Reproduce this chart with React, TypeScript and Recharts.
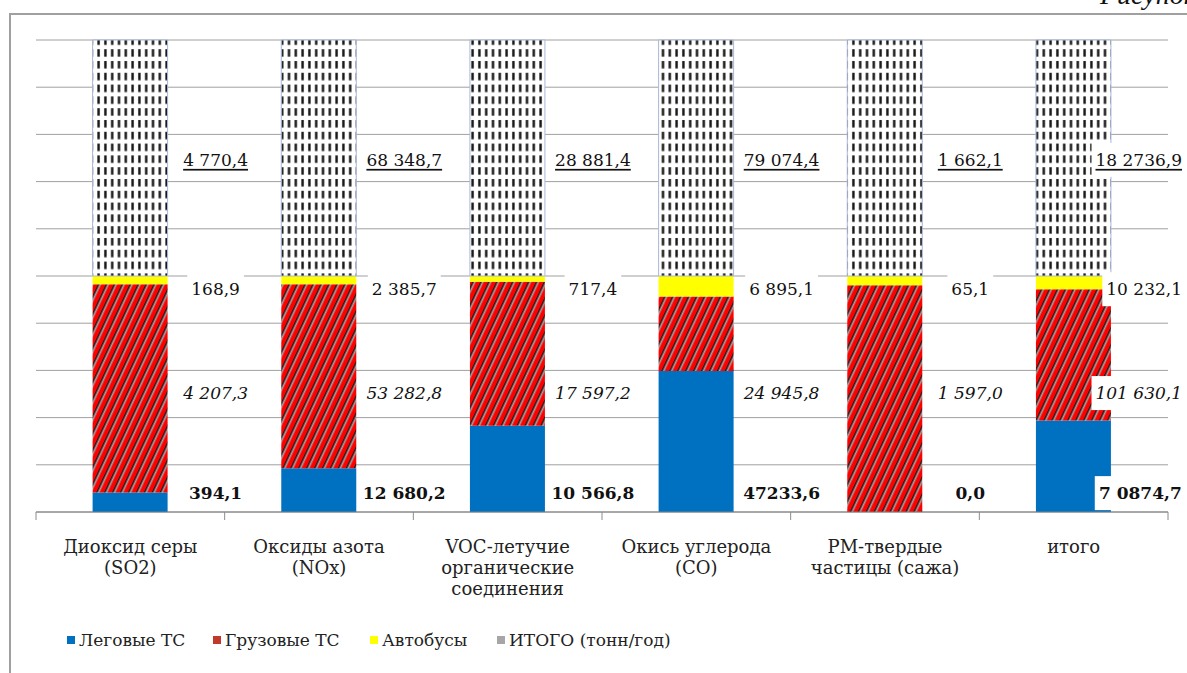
import { BarChart, Bar, XAxis, YAxis, CartesianGrid, LabelList, Legend } from 'recharts'

const categories = [
  ['Диоксид серы', '(SO2)'],
  ['Оксиды азота', '(NOx)'],
  ['VOC-летучие', 'органические', 'соединения'],
  ['Окись углерода', '(CO)'],
  ['PM-твердые', 'частицы (сажа)'],
  ['итого'],
]

const legkovye = [394.1, 12680.2, 10566.8, 47233.6, 0.0, 70874.7]
const gruzovye = [4207.3, 53282.8, 17597.2, 24945.8, 1597.0, 101630.1]
const avtobusy = [168.9, 2385.7, 717.4, 6895.1, 65.1, 10232.1]
const itogo = [4770.4, 68348.7, 28881.4, 79074.4, 1662.1, 182736.9]

const yTicks = [0, 0.1, 0.2, 0.3, 0.4, 0.5, 0.6, 0.7, 0.8, 0.9, 1]

// the source chart groups some numbers oddly, keep it as printed
const printed: Record<string, string> = {
  '47233.6': '47233,6',
  '70874.7': '7 0874,7',
  '182736.9': '18 2736,9',
}

const W = 1187
const H = 673
const PLOT_TOP = 40
const PLOT_BOTTOM = 512
const PLOT_LEFT = 36
const PLOT_RIGHT = 1168
const PLOT_H = PLOT_BOTTOM - PLOT_TOP
const FONT = '"DejaVu Serif", serif'
const LABEL_FS = 17

const data = categories.map((c, i) => ({
  name: c.join(' '),
  legk: legkovye[i],
  gruz: gruzovye[i],
  avto: avtobusy[i],
  itogo: itogo[i],
}))

type Kind = 'bold' | 'italic' | 'plain' | 'under'

// where each series puts its value label, as a share of the plot height
const labelRows: { values: number[]; frac: number; kind: Kind }[] = [
  { values: itogo, frac: 0.746, kind: 'under' },
  { values: avtobusy, frac: 0.472, kind: 'plain' },
  { values: gruzovye, frac: 0.252, kind: 'italic' },
  { values: legkovye, frac: 0.04, kind: 'bold' },
]

function fmt(v: number) {
  const key = v.toFixed(1)
  if (printed[key]) return printed[key]
  const [int, dec] = key.split('.')
  return int.replace(/\B(?=(\d{3})+(?!\d))/g, ' ') + ',' + dec
}

function textWidth(s: string, bold: boolean) {
  let w = 0
  for (const ch of s) {
    if (/\d/.test(ch)) w += bold ? 0.696 : 0.636
    else w += bold ? 0.36 : 0.318
  }
  return w * LABEL_FS
}

// drawn from the last series so the white boxes sit above every bar
const ColumnLabels = (props: any) => {
  const { x, width, index } = props
  const right = Number(x) + Number(width)
  return (
    <g>
      {labelRows.map((row) => {
        const text = fmt(row.values[index])
        const bold = row.kind === 'bold'
        const w = textWidth(text, bold)
        let cx = right + 48
        if (cx + w / 2 > W - 5) cx = W - 5 - w / 2
        const cy = PLOT_TOP + PLOT_H * (1 - row.frac)
        return (
          <g key={row.kind}>
            <rect x={cx - w / 2 - 4} y={cy - 17} width={w + 8} height={34} fill="#fff" />
            <text
              x={cx}
              y={cy}
              textAnchor="middle"
              dominantBaseline="central"
              fontFamily={FONT}
              fontSize={LABEL_FS}
              fill="#111"
              fontWeight={bold ? 700 : 400}
              fontStyle={row.kind === 'italic' ? 'italic' : 'normal'}
              textDecoration={row.kind === 'under' ? 'underline' : undefined}
            >
              {text}
            </text>
          </g>
        )
      })}
    </g>
  )
}

const CatTick = (props: any) => {
  const { x, payload } = props
  const idx = payload.index
  const lines = categories[idx] || []
  const band = (PLOT_RIGHT - PLOT_LEFT) / categories.length
  return (
    <g>
      <line x1={x - band / 2} x2={x - band / 2} y1={PLOT_BOTTOM} y2={PLOT_BOTTOM + 8} stroke="#8c8c8c" />
      {idx === categories.length - 1 && (
        <line x1={x + band / 2} x2={x + band / 2} y1={PLOT_BOTTOM} y2={PLOT_BOTTOM + 8} stroke="#8c8c8c" />
      )}
      <text x={x} y={PLOT_BOTTOM + 41} textAnchor="middle" fontFamily={FONT} fontSize={18} fill="#222">
        {lines.map((l, i) => (
          <tspan key={i} x={x} dy={i === 0 ? 0 : 21}>
            {l}
          </tspan>
        ))}
      </text>
    </g>
  )
}

const legendItems = [
  { label: 'Леговые ТС', color: '#0070c0', width: 146 },
  { label: 'Грузовые ТС', color: '#c0392b', width: 157 },
  { label: 'Автобусы', color: '#ffff00', width: 127 },
  { label: 'ИТОГО (тонн/год)', color: '#a6a6a6', width: 230 },
]

const LegendContent = () => (
  <div
    style={{
      display: 'flex',
      height: 20,
      lineHeight: '20px',
      paddingLeft: 67,
      color: '#222',
      whiteSpace: 'nowrap',
    }}
  >
    {legendItems.map((it) => (
      <div key={it.label} style={{ display: 'flex', alignItems: 'center', width: it.width }}>
        <span style={{ width: 8, height: 8, background: it.color, marginRight: 4, display: 'inline-block' }} />
        <span style={{ fontFamily: FONT, fontSize: 17 }}>{it.label}</span>
      </div>
    ))}
  </div>
)

export default function App() {
  return (
    <div
      style={{
        position: 'absolute',
        left: 0,
        top: 0,
        width: W,
        height: H,
        overflow: 'hidden',
        background: '#fff',
      }}
    >
      <div
        style={{
          position: 'absolute',
          left: 9,
          top: 13,
          width: 1400,
          height: 900,
          borderLeft: '2px solid #a0a0a0',
          borderTop: '2px solid #a0a0a0',
        }}
      />
      <div
        style={{
          position: 'absolute',
          left: 1100,
          top: -21,
          fontFamily: '"Liberation Serif", serif',
          fontStyle: 'italic',
          fontSize: 28,
          color: '#111',
          whiteSpace: 'nowrap',
        }}
      >
        Рисунок
      </div>
      <div style={{ position: 'absolute', left: 0, top: 0 }}>
        <BarChart
          width={W}
          height={H}
          data={data}
          stackOffset="expand"
          barCategoryGap="30%"
          margin={{ top: PLOT_TOP, right: W - PLOT_RIGHT, left: PLOT_LEFT, bottom: 23 }}
        >
          <defs>
            <pattern id="hatch" patternUnits="userSpaceOnUse" width="7.2" height="7.2" patternTransform="rotate(25)">
              <rect width="7.2" height="7.2" fill="#ff0000" />
              <rect x="0" width="1.5" height="7.2" fill="#1c1c1c" />
              <rect x="1.5" width="1.6" height="7.2" fill="#a2a2a2" />
            </pattern>
            <pattern id="dashes" patternUnits="userSpaceOnUse" width="6.8" height="11.8">
              <rect width="6.8" height="11.8" fill="#fff" />
              <rect x="2.2" y="2" width="2.4" height="7.5" fill="#141414" />
            </pattern>
          </defs>
          <CartesianGrid vertical={false} stroke="#a0a0a0" />
          <YAxis hide domain={[0, 1]} ticks={yTicks} width={0} />
          <XAxis
            dataKey="name"
            interval={0}
            height={118}
            tickLine={false}
            axisLine={{ stroke: '#808080' }}
            tick={<CatTick />}
          />
          <Legend verticalAlign="bottom" height={20} wrapperStyle={{ left: 0, width: W }} content={<LegendContent />} />
          <Bar dataKey="legk" stackId="a" fill="#0070c0" isAnimationActive={false} />
          <Bar dataKey="gruz" stackId="a" fill="url(#hatch)" isAnimationActive={false} />
          <Bar dataKey="avto" stackId="a" fill="#ffff00" isAnimationActive={false} />
          <Bar dataKey="itogo" stackId="a" fill="url(#dashes)" stroke="#a9b7d8" strokeWidth={1} isAnimationActive={false}>
            <LabelList dataKey="itogo" content={<ColumnLabels />} />
          </Bar>
        </BarChart>
      </div>
    </div>
  )
}
